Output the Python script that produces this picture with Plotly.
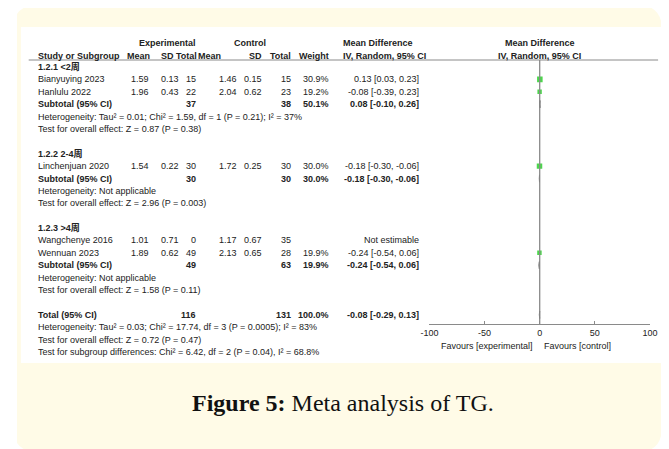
import plotly.graph_objects as go
import math

# ---------------- data ----------------
studies = ["Bianyuying 2023", "Hanlulu 2022", "Linchenjuan 2020", "Wangchenye 2016", "Wennuan 2023"]
study_group = [0, 0, 1, 2, 2]
exp_mean = [1.59, 1.96, 1.54, 1.01, 1.89]
exp_sd = [0.13, 0.43, 0.22, 0.71, 0.62]
exp_n = [15, 22, 30, 0, 49]
ctl_mean = [1.46, 2.04, 1.72, 1.17, 2.13]
ctl_sd = [0.15, 0.62, 0.25, 0.67, 0.65]
ctl_n = [15, 23, 30, 35, 28]
weight = [30.9, 19.2, 30.0, None, 19.9]
md = [0.13, -0.08, -0.18, None, -0.24]
md_lo = [0.03, -0.39, -0.30, None, -0.54]
md_hi = [0.23, 0.23, -0.06, None, 0.06]

groups = ["1.2.1 <2周", "1.2.2 2-4周", "1.2.3 >4周"]
sub_exp_n = [37, 30, 49]
sub_ctl_n = [38, 30, 63]
sub_weight = [50.1, 30.0, 19.9]
sub_md = [0.08, -0.18, -0.24]
sub_lo = [-0.10, -0.30, -0.54]
sub_hi = [0.26, -0.06, 0.06]
sub_het = ["Heterogeneity: Tau² = 0.01; Chi² = 1.59, df = 1 (P = 0.21); I² = 37%",
           "Heterogeneity: Not applicable",
           "Heterogeneity: Not applicable"]
sub_test = ["Test for overall effect: Z = 0.87 (P = 0.38)",
            "Test for overall effect: Z = 2.96 (P = 0.003)",
            "Test for overall effect: Z = 1.58 (P = 0.11)"]

total_exp_n = 116
total_ctl_n = 131
total_weight = 100.0
total_md, total_lo, total_hi = -0.08, -0.29, 0.13
total_lines = ["Heterogeneity: Tau² = 0.03; Chi² = 17.74, df = 3 (P = 0.0005); I² = 83%",
               "Test for overall effect: Z = 0.72 (P = 0.47)",
               "Test for subgroup differences: Chi² = 6.42, df = 2 (P = 0.04), I² = 68.8%"]

axis_ticks = [-100, -50, 0, 50, 100]
fav_left = "Favours [experimental]"
fav_right = "Favours [control]"
caption_bold = "Figure 5:"
caption_rest = " Meta analysis of TG."

# ---------------- layout constants ----------------
WIN_W, WIN_H = 669, 449
OFF = 8                      # default page body margin
W, H = WIN_W - OFF, WIN_H - OFF
ROW0_PX, PITCH = 67.0, 12.39
FONT = "Liberation Sans, Arial, Noto Sans CJK SC, sans-serif"
TXT = "#222222"
FS = 9

# column right edges (window px)
C_NAME = 28
C_EMEAN, C_ESD, C_EN = 146, 176, 194
C_CMEAN, C_CSD, C_CN = 236, 262, 291
C_W, C_MD = 330, 423

def fmt_ci(m, lo, hi):
    return f"{m:.2f} [{lo:.2f}, {hi:.2f}]"

fig = go.Figure()
ann = []

def txt(x, row, s, anchor="left", bold=False, ref="y2", xref="x", size=FS):
    if bold:
        s = f"<b>{s}</b>"
    ann.append(dict(x=x, y=row, xref=xref, yref=ref, text=s, showarrow=False,
                    xanchor=anchor, yanchor="middle",
                    font=dict(family=FONT, size=size, color=TXT)))

# ---------- build rows ----------
row = 0
study_rows = {}
sub_rows = []
for g, gname in enumerate(groups):
    txt(C_NAME, row, gname, bold=True)
    row += 1
    for i, s in enumerate(studies):
        if study_group[i] != g:
            continue
        study_rows[i] = row
        txt(C_NAME, row, s)
        txt(C_EMEAN, row, f"{exp_mean[i]:.2f}", "right")
        txt(C_ESD, row, f"{exp_sd[i]:.2f}", "right")
        txt(C_EN, row, f"{exp_n[i]}", "right")
        txt(C_CMEAN, row, f"{ctl_mean[i]:.2f}", "right")
        txt(C_CSD, row, f"{ctl_sd[i]:.2f}", "right")
        txt(C_CN, row, f"{ctl_n[i]}", "right")
        if weight[i] is not None:
            txt(C_W, row, f"{weight[i]:.1f}%", "right")
            txt(C_MD, row, fmt_ci(md[i], md_lo[i], md_hi[i]), "right")
        else:
            txt(C_MD, row, "Not estimable", "right")
        row += 1
    sub_rows.append(row)
    txt(C_NAME, row, "Subtotal (95% CI)", bold=True)
    txt(C_EN, row, f"{sub_exp_n[g]}", "right", bold=True)
    txt(C_CN, row, f"{sub_ctl_n[g]}", "right", bold=True)
    txt(C_W, row, f"{sub_weight[g]:.1f}%", "right", bold=True)
    txt(C_MD, row, fmt_ci(sub_md[g], sub_lo[g], sub_hi[g]), "right", bold=True)
    row += 1
    txt(C_NAME, row, sub_het[g]); row += 1
    txt(C_NAME, row, sub_test[g]); row += 1
    row += 1

total_row = row
txt(C_NAME, row, "Total (95% CI)", bold=True)
txt(C_EN, row, f"{total_exp_n}", "right", bold=True)
txt(C_CN, row, f"{total_ctl_n}", "right", bold=True)
txt(C_W, row, f"{total_weight:.1f}%", "right", bold=True)
txt(C_MD, row, fmt_ci(total_md, total_lo, total_hi), "right", bold=True)
row += 1
for line in total_lines:
    txt(C_NAME, row, line)
    row += 1

# headers (px y)
def htxt(x, ypx, s, anchor, xref="x"):
    ann.append(dict(x=x, y=ypx, xref=xref, yref="y", text=f"<b>{s}</b>", showarrow=False,
                    xanchor=anchor, yanchor="middle",
                    font=dict(family=FONT, size=FS, color=TXT)))

htxt(162, 43, "Experimental", "center")
htxt(247, 43, "Control", "center")
htxt(341, 43, "Mean Difference", "left")
htxt(0, 43, "Mean Difference", "center", xref="x2")
htxt(C_NAME, 55.5, "Study or Subgroup", "left")
htxt(147, 55.5, "Mean", "right")
htxt(171, 55.5, "SD", "right")
htxt(195, 55.5, "Total", "right")
htxt(219, 55.5, "Mean", "right")
htxt(262, 55.5, "SD", "right")
htxt(291, 55.5, "Total", "right")
htxt(330, 55.5, "Weight", "right")
htxt(341, 55.5, "IV, Random, 95% CI", "left")
htxt(0, 55.5, "IV, Random, 95% CI", "center", xref="x2")

# favours labels
ann.append(dict(x=-4, y=346, xref="x2", yref="y", text=fav_left, showarrow=False,
                xanchor="right", yanchor="middle", font=dict(family=FONT, size=FS, color=TXT)))
ann.append(dict(x=2, y=346, xref="x2", yref="y", text=fav_right, showarrow=False,
                xanchor="left", yanchor="middle", font=dict(family=FONT, size=FS, color=TXT)))

# caption
ann.append(dict(x=343, y=403, xref="x", yref="y",
                text=f"<b>{caption_bold}</b>{caption_rest}", showarrow=False,
                xanchor="center", yanchor="middle",
                font=dict(family="Liberation Serif, DejaVu Serif, serif", size=24, color="#111111")))

# ---------- marks ----------
idx = [i for i in range(len(studies)) if md[i] is not None]
fig.add_trace(go.Scatter(
    x=[md[i] for i in idx], y=[study_rows[i] for i in idx],
    xaxis="x2", yaxis="y2", mode="markers",
    marker=dict(symbol="square", color="#00c400", size=[math.sqrt(weight[i]) for i in idx],
                line=dict(width=0)),
    error_x=dict(type="data", symmetric=False,
                 array=[md_hi[i] - md[i] for i in idx],
                 arrayminus=[md[i] - md_lo[i] for i in idx],
                 color="black", thickness=1, width=0),
    showlegend=False, hoverinfo="skip"))

def diamond(m, lo, hi, r):
    fig.add_trace(go.Scatter(
        x=[lo, m, hi, m, lo], y=[r, r - 0.3, r, r + 0.3, r],
        xaxis="x2", yaxis="y2", mode="lines", fill="toself",
        fillcolor="black", line=dict(color="black", width=0.8),
        showlegend=False, hoverinfo="skip"))

for g in range(len(groups)):
    diamond(sub_md[g], sub_lo[g], sub_hi[g], sub_rows[g])
diamond(total_md, total_lo, total_hi, total_row)

# ---------- shapes ----------
shapes = [
    dict(type="path", xref="x", yref="y",
         path="M 4 30 Q 4 5 29 5 L 645 5 Q 670 5 670 30 L 670 427 Q 670 452 645 452 L 29 452 Q 4 452 4 427 Z",
         fillcolor="#fffbe7", line=dict(width=0), layer="below"),
    dict(type="rect", xref="x", yref="y", x0=12, x1=669, y0=27, y1=363,
         fillcolor="white", line=dict(width=0), layer="below"),
    dict(type="line", xref="x", yref="y", x0=20, x1=666, y0=60, y1=60,
         line=dict(color="#8a8a8a", width=1)),
    dict(type="line", xref="x2", yref="y", x0=0, x1=0, y0=60, y1=324,
         line=dict(color="#8a8a8a", width=1.3)),
]

rows_top = (OFF - ROW0_PX) / PITCH
rows_bot = (WIN_H - ROW0_PX) / PITCH
x2_lo_px, x2_hi_px = 431.3, 657.7

fig.update_layout(
    width=W, height=H, margin=dict(l=0, r=0, t=0, b=0),
    paper_bgcolor="white", plot_bgcolor="rgba(0,0,0,0)",
    showlegend=False,
    xaxis=dict(range=[OFF, WIN_W], domain=[0, 1], visible=False, fixedrange=True),
    yaxis=dict(range=[WIN_H, OFF], domain=[0, 1], visible=False, fixedrange=True),
    yaxis2=dict(range=[rows_bot, rows_top], overlaying="y", visible=False, fixedrange=True),
    xaxis2=dict(range=[-100, 100],
                domain=[(x2_lo_px - OFF) / W, (x2_hi_px - OFF) / W],
                anchor="free", position=1 - (324 - OFF) / H,
                showline=True, linecolor="#8a8a8a", linewidth=1,
                ticks="inside", ticklen=3, tickcolor="#8a8a8a", tickwidth=1,
                tickvals=axis_ticks, ticktext=[str(t) for t in axis_ticks],
                tickfont=dict(family=FONT, size=FS, color=TXT),
                showgrid=False, zeroline=False, fixedrange=True),
    annotations=ann, shapes=shapes,
)

fig.write_html("out.html")
